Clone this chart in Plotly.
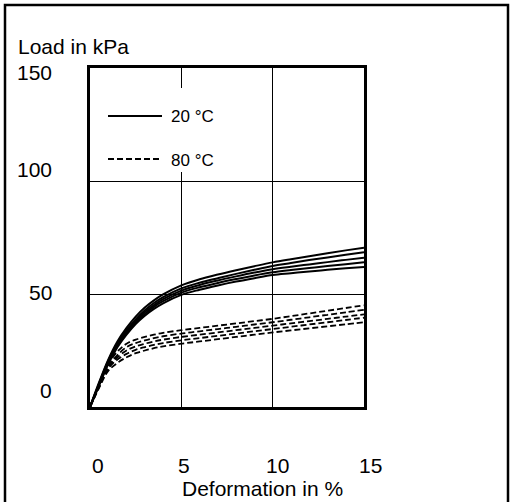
import plotly.graph_objects as go

# ---- data ----
deformation = [0, 0.5, 1, 1.5, 2, 2.5, 3, 3.5, 4, 5, 6, 7, 8, 9, 10, 11, 12, 13, 14, 15]

load_20C = [
    [0, 11, 21, 29, 35, 40, 44, 47.2, 49.8, 53.8, 56.5, 58.6, 60.5, 62.3, 64, 65.4, 66.7, 68, 69.3, 70.5],
    [0, 10.5, 20.5, 28.2, 34, 38.8, 42.8, 46, 48.6, 52.5, 55, 57, 58.9, 60.7, 62.4, 63.7, 65, 66.2, 67.4, 68.5],
    [0, 10, 20, 27.5, 33.3, 38, 42, 45.1, 47.7, 51.5, 54, 56, 57.8, 59.5, 61, 62.1, 63.1, 64.1, 65.1, 66],
    [0, 10, 19.5, 27, 32.8, 37.4, 41.2, 44.3, 46.8, 50.6, 53, 54.9, 56.6, 58.2, 59.6, 60.6, 61.5, 62.4, 63.2, 64],
    [0, 9.5, 19, 26.4, 32, 36.7, 40.4, 43.4, 45.9, 49.6, 51.9, 53.8, 55.5, 57, 58.4, 59.2, 60, 60.7, 61.4, 62],
]
load_80C = [
    [0, 10, 19, 24.5, 28, 29.8, 31, 32, 32.8, 34, 35, 36, 37, 38, 39, 40.2, 41.4, 42.6, 43.8, 45],
    [0, 9.5, 18, 23, 26.5, 28.3, 29.5, 30.5, 31.3, 32.5, 33.5, 34.5, 35.5, 36.5, 37.5, 38.6, 39.7, 40.8, 41.9, 43],
    [0, 9, 17.5, 22, 25, 26.8, 28, 29, 29.8, 31, 32, 33, 34, 35, 36, 37, 38, 39, 40, 41],
    [0, 9, 17, 21, 23.5, 25.3, 26.5, 27.5, 28.3, 29.5, 30.5, 31.5, 32.5, 33.5, 34.5, 35.5, 36.5, 37.5, 38.5, 39.5],
    [0, 8.5, 16, 19.5, 22, 23.8, 25, 26, 26.8, 28, 29, 30, 31, 32, 33, 33.9, 34.8, 35.7, 36.6, 37.5],
]
series_names = ["20 °C", "80 °C"]
x_ticks = [0, 5, 10, 15]
y_ticks = [0, 50, 100, 150]
x_title = "Deformation in %"
y_title = "Load in kPa"

# ---- layout geometry (pixels) ----
W, H = 510, 502
L, R, T, B = 90, 146, 68, 95
PW, PH = W - L - R, H - T - B

def px(xp):
    return (xp - L) / PW

def py(yp):
    return (H - B - yp) / PH

FONT = "Liberation Sans, Arial, sans-serif"

fig = go.Figure()
for ys in load_20C:
    fig.add_trace(go.Scatter(x=deformation, y=ys, mode="lines", name=series_names[0],
                             line=dict(color="black", width=2, shape="spline", smoothing=1.0),
                             showlegend=False, hoverinfo="skip"))
for ys in load_80C:
    fig.add_trace(go.Scatter(x=deformation, y=ys, mode="lines", name=series_names[1],
                             line=dict(color="black", width=1.8, dash="6px,3px", shape="spline", smoothing=1.0),
                             showlegend=False, hoverinfo="skip"))

axis_common = dict(showline=True, mirror=True, linecolor="black", linewidth=3,
                   showgrid=True, gridcolor="black", gridwidth=1.3,
                   zeroline=False, showticklabels=False, ticks="")
fig.update_xaxes(range=[0, 15], tickvals=x_ticks, **axis_common)
fig.update_yaxes(range=[0, 150], tickvals=y_ticks, **axis_common)

shapes = []
# outer frame of the figure
shapes.append(dict(type="rect", xref="paper", yref="paper",
                   x0=px(5), x1=px(508), y0=py(520), y1=py(5),
                   line=dict(color="black", width=2.5), fillcolor="rgba(0,0,0,0)", layer="above"))
# gap in gridline behind legend
shapes.append(dict(type="rect", xref="paper", yref="paper",
                   x0=px(176), x1=px(189), y0=py(172), y1=py(88),
                   line=dict(width=0), fillcolor="white", layer="above"))
# legend samples
shapes.append(dict(type="line", xref="paper", yref="paper",
                   x0=px(108), x1=px(162), y0=py(116), y1=py(116),
                   line=dict(color="black", width=2.2)))
shapes.append(dict(type="line", xref="paper", yref="paper",
                   x0=px(108), x1=px(162), y0=py(159), y1=py(159),
                   line=dict(color="black", width=1.8, dash="6px,3px")))

annotations = []
# legend text
for name, yp in zip(series_names, [116, 160]):
    annotations.append(dict(text=name, xref="paper", yref="paper", x=px(169), y=py(yp),
                            xanchor="left", yanchor="middle", showarrow=False,
                            font=dict(family=FONT, size=17, color="black")))
# y tick labels (offsets as in the scanned original)
y_label_px = [390, 292, 169, 72]
for v, yp in zip(y_ticks, y_label_px):
    annotations.append(dict(text=str(v), xref="paper", yref="paper", x=px(54), y=py(yp),
                            xanchor="right", yanchor="middle", showarrow=False,
                            font=dict(family=FONT, size=21, color="black")))
# x tick labels
x_label_px = [98, 184, 277, 370]
for v, xp in zip(x_ticks, x_label_px):
    annotations.append(dict(text=str(v), xref="paper", yref="paper", x=px(xp), y=py(465),
                            xanchor="center", yanchor="middle", showarrow=False,
                            font=dict(family=FONT, size=21, color="black")))
# axis titles
annotations.append(dict(text=y_title, xref="paper", yref="paper", x=px(16), y=py(47),
                        xanchor="left", yanchor="middle", showarrow=False,
                        font=dict(family=FONT, size=21, color="black")))
annotations.append(dict(text=x_title, xref="paper", yref="paper", x=px(262), y=py(488),
                        xanchor="center", yanchor="middle", showarrow=False,
                        font=dict(family=FONT, size=21, color="black")))

fig.update_layout(width=W, height=H, margin=dict(l=L, r=R, t=T, b=B, pad=0),
                  paper_bgcolor="white", plot_bgcolor="white",
                  shapes=shapes, annotations=annotations, showlegend=False)

fig.write_html("out.html")
